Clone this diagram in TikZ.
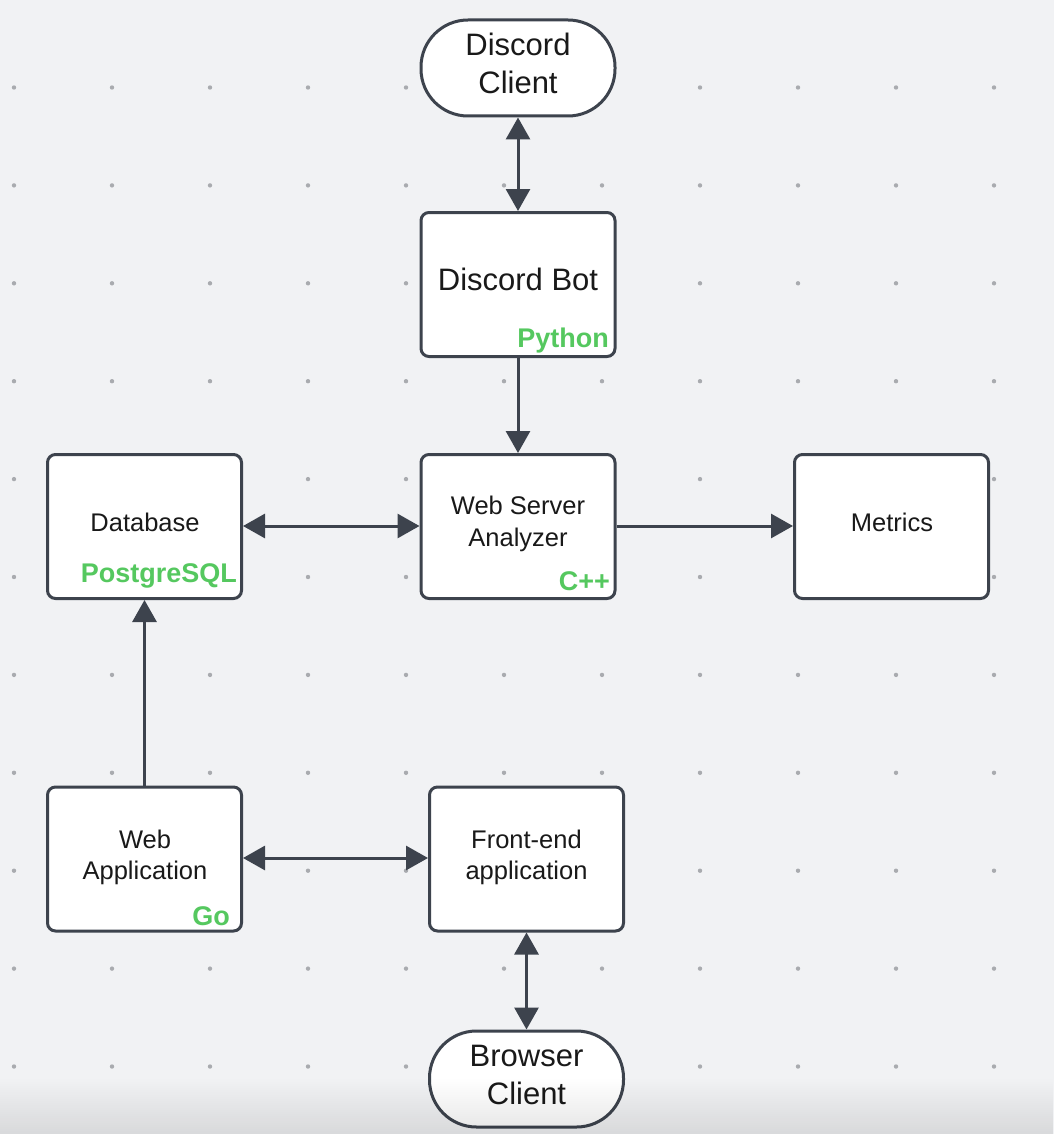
\documentclass[tikz,border=0pt]{standalone}
\usepackage{fontspec}
\setmainfont{Liberation Sans}
\usetikzlibrary{arrows.meta,fadings}
\definecolor{bg}{HTML}{F1F2F4}
\definecolor{edge}{HTML}{3D434D}
\definecolor{dotc}{HTML}{A9ABAF}
\definecolor{lang}{HTML}{55C85F}
\tikzset{
  box/.style={draw=edge, line width=3pt, fill=white, rounded corners=8pt,
    minimum width=194pt, minimum height=144pt, inner sep=0pt},
  pill/.style={draw=edge, line width=3pt, fill=white, rounded corners=47pt,
    minimum width=194pt, minimum height=96pt, inner sep=0pt},
  txt/.style={align=center, inner sep=0pt, text=black!90,
    font=\fontsize{25.5}{31.5}\selectfont},
  bigtxt/.style={align=center, inner sep=0pt, text=black!90,
    font=\fontsize{31}{38}\selectfont},
  langlbl/.style={font=\bfseries\fontsize{27}{30}\selectfont, text=lang, inner sep=0pt, anchor=east},
  conn/.style={draw=edge, line width=3pt},
  tip/.style={-{Triangle[width=24pt,length=22pt]}},
  tips/.style={{Triangle[width=24pt,length=22pt]}-{Triangle[width=24pt,length=22pt]}},
}
\begin{document}
\begin{tikzpicture}[x=1pt,y=-1pt]
\fill[bg] (0,0) rectangle (1054,1134);
\useasboundingbox (0,0) rectangle (1054,1134);
% dot grid
\foreach \i in {0,...,10}{
  \foreach \j in {0,...,10}{
    \fill[dotc] (14+98*\i, 87.5+97.9*\j) circle (2.2pt);
  }
}
% shapes
\node[pill] (dc) at (518,68) {};
\node[box] (bot) at (518,284.5) {};
\node[box] (ws) at (518,526.5) {};
\node[box] (db) at (144.5,526.5) {};
\node[box] (met) at (891.5,526.5) {};
\node[box] (wa) at (144.5,859) {};
\node[box] (fe) at (526.5,859) {};
\node[pill] (bc) at (526.5,1079) {};
% texts
\node[bigtxt] (dct) at (518,63) {Discord\\Client};
\node[bigtxt] (bott) at (518,279) {Discord Bot};
\node[langlbl] (py) at (609,341) {Python};
\node[txt] (wst) at (518,524) {Web Server\\Analyzer};
\node[langlbl] (cpp) at (610,581) {C++};
\node[txt] (dbt) at (145,522) {Database};
\node[langlbl] (pg) at (237,576) {PostgreSQL};
\node[txt] (mett) at (892,522) {Metrics};
\node[txt] (wat) at (145,857.5) {Web\\Application};
\node[langlbl] (go) at (230,916) {Go};
\node[txt] (fet) at (526.5,857.5) {Front-end\\application};
\node[bigtxt] (bct) at (526.5,1075) {Browser\\Client};
% connectors
\draw[conn,tips] (dc.south) -- (bot.north);
\draw[conn,tip] (bot.south) -- (ws.north);
\draw[conn,tips] (db.east |- 0,526) -- (ws.west |- 0,526);
\draw[conn,tip] (ws.east |- 0,526) -- (met.west |- 0,526);
\draw[conn,tip] (wa.north) -- (db.south);
\draw[conn,tips] (wa.east |- 0,858) -- (fe.west |- 0,858);
\draw[conn,tips] (fe.south) -- (bc.north);
% bottom shading
\fill[black, opacity=0.10, path fading=north] (0,1078) rectangle (1054,1134);
\end{tikzpicture}
\end{document}
